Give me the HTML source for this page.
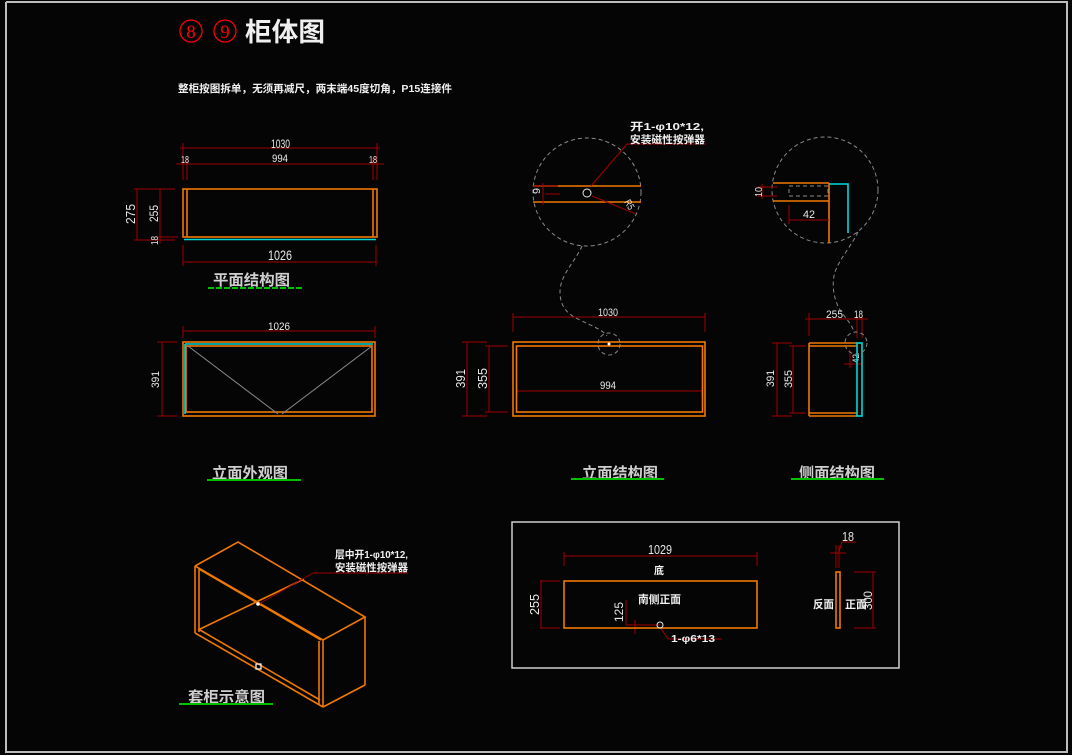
<!DOCTYPE html>
<html><head><meta charset="utf-8"><style>
html,body{margin:0;padding:0;background:#050505;}
svg{display:block;}
.d{stroke:#a00000;stroke-width:1;fill:none}
.o{stroke:#f07800;stroke-width:1.6;fill:none}
.c{stroke:#00d8d8;stroke-width:1.6;fill:none}
.g{stroke:#8a8a8a;stroke-width:1;fill:none;stroke-dasharray:4 3}
.n{fill:#e8e8e8;font-family:"Liberation Sans",sans-serif;}
.t{fill:#f0f0f0;font-family:"Liberation Sans","Noto Sans CJK SC",sans-serif;font-weight:bold;}
.h{fill:#cfcfcf;font-family:"Liberation Sans","Noto Sans CJK SC",sans-serif;font-weight:bold;font-size:15px;}
.u{stroke:#00c000;stroke-width:2;}
</style></head><body>
<svg width="1072" height="755" viewBox="0 0 1072 755" xmlns="http://www.w3.org/2000/svg">
<rect x="0" y="0" width="1072" height="755" fill="#050505"/>
<!-- frame -->
<polyline points="6,2 1067,2 1067,752 6,752 6,2" fill="none" stroke="#bdbdbd" stroke-width="2"/>

<!-- title -->
<circle cx="191" cy="31" r="11" fill="none" stroke="#ff0000" stroke-width="1.3"/>
<text x="191" y="38" text-anchor="middle" font-family="Liberation Serif,serif" font-size="19" fill="#ff0000">8</text>
<circle cx="225" cy="31" r="11" fill="none" stroke="#ff0000" stroke-width="1.3"/>
<text x="225" y="38" text-anchor="middle" font-family="Liberation Serif,serif" font-size="19" fill="#ff0000">9</text>
<text x="245" y="41" class="t" font-size="26" textLength="80" lengthAdjust="spacingAndGlyphs">柜体图</text>
<text x="178" y="92" class="t" font-size="10.5" textLength="274" lengthAdjust="spacingAndGlyphs">整柜按图拆单，无须再减尺，两末端45度切角，P15连接件</text>

<!-- ============ PLAN VIEW ============ -->
<g class="d">
<line x1="183" y1="143" x2="183" y2="180"/><line x1="377" y1="143" x2="377" y2="180"/>
<line x1="180" y1="148" x2="380" y2="148"/>
<line x1="176" y1="164" x2="384" y2="164"/>
<line x1="187" y1="158" x2="187" y2="180"/><line x1="373" y1="158" x2="373" y2="180"/>
<line x1="134" y1="189" x2="175" y2="189"/><line x1="134" y1="240" x2="175" y2="240"/>
<line x1="157" y1="237" x2="178" y2="237"/>
<line x1="137" y1="189" x2="137" y2="240"/>
<line x1="160" y1="189" x2="160" y2="244"/>
<line x1="183" y1="245" x2="183" y2="266"/><line x1="376" y1="245" x2="376" y2="266"/>
<line x1="183" y1="262" x2="376" y2="262"/>
</g>
<text x="271" y="148" class="n" font-size="12" textLength="19" lengthAdjust="spacingAndGlyphs">1030</text>
<text x="272" y="162" class="n" font-size="11" textLength="16" lengthAdjust="spacingAndGlyphs">994</text>
<text x="181" y="163" class="n" font-size="10" textLength="8" lengthAdjust="spacingAndGlyphs">18</text>
<text x="369" y="163" class="n" font-size="10" textLength="8" lengthAdjust="spacingAndGlyphs">18</text>
<text x="268" y="260" class="n" font-size="14" textLength="24" lengthAdjust="spacingAndGlyphs">1026</text>
<text transform="translate(135,224) rotate(-90)" class="n" font-size="13" textLength="20" lengthAdjust="spacingAndGlyphs">275</text>
<text transform="translate(158,222) rotate(-90)" class="n" font-size="12" textLength="17" lengthAdjust="spacingAndGlyphs">255</text>
<text transform="translate(158,245) rotate(-90)" class="n" font-size="10" textLength="9" lengthAdjust="spacingAndGlyphs">18</text>
<rect x="183" y="189" width="194" height="48" class="o"/>
<line x1="187" y1="189" x2="187" y2="237" class="o"/>
<line x1="373" y1="189" x2="373" y2="237" class="o"/>
<line x1="184" y1="239.5" x2="376" y2="239.5" class="c" stroke-width="2.2"/>
<text x="213" y="285" class="h" textLength="77" lengthAdjust="spacingAndGlyphs">平面结构图</text>
<line x1="208" y1="288" x2="302" y2="288" class="u" stroke-dasharray="6 2"/>

<!-- ============ ELEVATION EXTERIOR ============ -->
<g class="d">
<line x1="183" y1="326" x2="183" y2="338"/><line x1="375" y1="326" x2="375" y2="338"/>
<line x1="183" y1="331" x2="375" y2="331"/>
<line x1="157" y1="342" x2="177" y2="342"/><line x1="157" y1="416" x2="177" y2="416"/>
<line x1="162" y1="342" x2="162" y2="416"/>
</g>
<text x="268" y="330" class="n" font-size="11" textLength="22" lengthAdjust="spacingAndGlyphs">1026</text>
<text transform="translate(159,388) rotate(-90)" class="n" font-size="11" textLength="17" lengthAdjust="spacingAndGlyphs">391</text>
<rect x="183" y="342" width="192" height="74" class="o"/>
<line x1="185" y1="344" x2="373" y2="344" class="c"/>
<line x1="185" y1="344" x2="185" y2="414" class="c"/>
<rect x="186" y="346" width="186" height="66" class="o"/>
<line x1="188" y1="346" x2="278" y2="414" stroke="#8a8a8a" stroke-width="1"/>
<line x1="372" y1="346" x2="282" y2="414" stroke="#8a8a8a" stroke-width="1"/>
<text x="212" y="478" class="h" textLength="76" lengthAdjust="spacingAndGlyphs">立面外观图</text>
<line x1="207" y1="480" x2="301" y2="480" class="u"/>

<!-- ============ TOP DETAIL CIRCLE 1 ============ -->
<circle cx="587" cy="192" r="54" class="g"/>
<line x1="533" y1="186" x2="641" y2="186" class="o"/>
<line x1="533" y1="202" x2="641" y2="202" class="o"/>
<g class="d">
<line x1="533" y1="186" x2="558" y2="186"/>
<line x1="543" y1="183" x2="543" y2="205"/>
<line x1="546" y1="194" x2="560" y2="194"/>
<line x1="591" y1="186" x2="627" y2="144"/>
<line x1="627" y1="144" x2="706" y2="144"/>
<line x1="592" y1="196" x2="636" y2="214"/>
</g>
<circle cx="587" cy="193" r="4" fill="none" stroke="#e8e8e8" stroke-width="1"/>
<text transform="translate(540,194) rotate(-90)" class="n" font-size="10" textLength="6" lengthAdjust="spacingAndGlyphs">9</text>
<text transform="translate(624,202) rotate(60)" class="n" font-size="10" textLength="10" lengthAdjust="spacingAndGlyphs">R5</text>
<text x="630" y="130" class="t" font-size="10.5" textLength="74" lengthAdjust="spacingAndGlyphs">开1-φ10*12,</text>
<text x="630" y="143" class="t" font-size="10.5" textLength="75" lengthAdjust="spacingAndGlyphs">安装磁性按弹器</text>
<!-- squiggle -->
<path d="M582,246 C575,262 560,275 560,292 C560,305 566,314 580,320 C592,326 603,330 607,336" class="g"/>
<circle cx="609" cy="344" r="11" class="g"/>

<!-- ============ ELEVATION STRUCTURE ============ -->
<g class="d">
<line x1="513" y1="313" x2="513" y2="332"/><line x1="705" y1="313" x2="705" y2="332"/>
<line x1="513" y1="317" x2="705" y2="317"/>
<line x1="517" y1="391" x2="702" y2="391"/>
<line x1="517" y1="386" x2="517" y2="396"/><line x1="702" y1="386" x2="702" y2="396"/>
<line x1="462" y1="342" x2="487" y2="342"/><line x1="462" y1="416" x2="487" y2="416"/>
<line x1="467" y1="342" x2="467" y2="416"/>
<line x1="485" y1="346" x2="508" y2="346"/><line x1="485" y1="412" x2="508" y2="412"/>
<line x1="489" y1="346" x2="489" y2="412"/>
</g>
<text x="598" y="316" class="n" font-size="11" textLength="20" lengthAdjust="spacingAndGlyphs">1030</text>
<text x="600" y="389" class="n" font-size="11" textLength="16" lengthAdjust="spacingAndGlyphs">994</text>
<text transform="translate(465,388) rotate(-90)" class="n" font-size="13" textLength="19" lengthAdjust="spacingAndGlyphs">391</text>
<text transform="translate(487,389) rotate(-90)" class="n" font-size="13" textLength="21" lengthAdjust="spacingAndGlyphs">355</text>
<rect x="513" y="342" width="192" height="74" class="o" stroke-width="2"/>
<rect x="516.5" y="346" width="186" height="66" class="o" stroke-width="1.6"/>
<circle cx="609" cy="344" r="1.5" fill="#fff"/>
<text x="582" y="478" class="h" textLength="76" lengthAdjust="spacingAndGlyphs">立面结构图</text>
<line x1="571" y1="479" x2="664" y2="479" class="u"/>

<!-- ============ TOP DETAIL CIRCLE 2 ============ -->
<circle cx="825" cy="190" r="53" class="g"/>
<line x1="773" y1="183" x2="829" y2="183" class="o"/>
<line x1="773" y1="201" x2="829" y2="201" class="o"/>
<line x1="829" y1="183" x2="829" y2="243" class="o"/>
<polyline points="829,184 848,184 848,233" class="c"/>
<rect x="789" y="186" width="39" height="10" class="g"/>
<g class="d">
<line x1="758" y1="187" x2="777" y2="187"/>
<line x1="758" y1="196" x2="777" y2="196"/>
<line x1="762" y1="184" x2="762" y2="199"/>
<line x1="789" y1="205" x2="789" y2="224"/>
<line x1="789" y1="220" x2="829" y2="220"/>
</g>
<text transform="translate(762,197) rotate(-90)" class="n" font-size="10" textLength="10" lengthAdjust="spacingAndGlyphs">10</text>
<text x="803" y="218" class="n" font-size="11" textLength="12" lengthAdjust="spacingAndGlyphs">42</text>
<path d="M858,232 C852,245 840,258 835,272 C831,285 834,302 842,313 C848,321 852,325 854,332" class="g"/>

<!-- ============ SIDE STRUCTURE ============ -->
<g class="d">
<line x1="809" y1="313" x2="809" y2="336"/>
<line x1="805" y1="319" x2="868" y2="319"/>
<line x1="857" y1="315" x2="857" y2="338"/>
<line x1="862" y1="315" x2="862" y2="338"/>
<line x1="772" y1="343" x2="792" y2="343"/><line x1="772" y1="416" x2="792" y2="416"/>
<line x1="777" y1="343" x2="777" y2="416"/>
<line x1="789" y1="346" x2="806" y2="346"/><line x1="789" y1="413" x2="806" y2="413"/>
<line x1="793" y1="346" x2="793" y2="413"/>
<line x1="850" y1="350" x2="850" y2="368"/>
<line x1="844" y1="364" x2="863" y2="364"/>
</g>
<text x="826" y="318" class="n" font-size="11" textLength="17" lengthAdjust="spacingAndGlyphs">255</text>
<text x="854" y="318" class="n" font-size="11" textLength="9" lengthAdjust="spacingAndGlyphs">18</text>
<text transform="translate(774,387) rotate(-90)" class="n" font-size="11" textLength="17" lengthAdjust="spacingAndGlyphs">391</text>
<text transform="translate(792,388) rotate(-90)" class="n" font-size="11" textLength="18" lengthAdjust="spacingAndGlyphs">355</text>
<text transform="translate(859,363) rotate(-90)" class="n" font-size="9" textLength="9" lengthAdjust="spacingAndGlyphs">42</text>
<line x1="809" y1="343" x2="857" y2="343" class="o"/>
<line x1="809" y1="346" x2="857" y2="346" class="o"/>
<line x1="809" y1="413" x2="857" y2="413" class="o"/>
<line x1="809" y1="416" x2="857" y2="416" class="o"/>
<line x1="809" y1="343" x2="809" y2="416" class="o"/>
<rect x="857" y="343" width="5" height="73" class="c"/>
<circle cx="856" cy="343" r="11" class="g"/>
<text x="799" y="478" class="h" textLength="76" lengthAdjust="spacingAndGlyphs">侧面结构图</text>
<line x1="791" y1="479" x2="884" y2="479" class="u"/>

<!-- ============ ISO VIEW ============ -->
<g class="o" stroke-width="1.3">
<polyline points="195,566 238,542 365,617 323,640 195,566"/>
<line x1="199" y1="569" x2="321" y2="640"/>
<line x1="195" y1="566" x2="195" y2="633"/>
<line x1="199" y1="569" x2="199" y2="632"/>
<line x1="195" y1="633" x2="323" y2="707"/>
<line x1="200" y1="630" x2="320" y2="700"/>
<line x1="323" y1="640" x2="323" y2="707"/>
<line x1="319" y1="641" x2="319" y2="704"/>
<line x1="365" y1="617" x2="365" y2="685"/>
<line x1="365" y1="685" x2="323" y2="707"/>
<line x1="198" y1="630" x2="304" y2="579"/>
</g>
<g class="d">
<line x1="259" y1="604" x2="313" y2="573"/>
<line x1="313" y1="573" x2="408" y2="573"/>
</g>
<circle cx="258" cy="604" r="1.8" fill="#fff"/>
<rect x="256" y="664" width="5" height="5" fill="none" stroke="#fff" stroke-width="1.2"/>
<text x="335" y="558" class="t" font-size="10.5" textLength="73" lengthAdjust="spacingAndGlyphs">层中开1-φ10*12,</text>
<text x="335" y="571" class="t" font-size="10.5" textLength="73" lengthAdjust="spacingAndGlyphs">安装磁性按弹器</text>
<text x="188" y="702" class="h" textLength="77" lengthAdjust="spacingAndGlyphs">套柜示意图</text>
<line x1="179" y1="704" x2="273" y2="704" class="u"/>

<!-- ============ BOTTOM BOX ============ -->
<rect x="512" y="522" width="387" height="146" fill="none" stroke="#cfcfcf" stroke-width="1.5"/>
<g class="d">
<line x1="564" y1="552" x2="564" y2="566"/><line x1="757" y1="552" x2="757" y2="566"/>
<line x1="564" y1="556" x2="757" y2="556"/>
<line x1="540" y1="581" x2="560" y2="581"/><line x1="540" y1="628" x2="560" y2="628"/>
<line x1="541" y1="581" x2="541" y2="628"/>
<line x1="626" y1="600" x2="626" y2="625"/>
<line x1="626" y1="625" x2="660" y2="625"/>
<line x1="635" y1="620" x2="635" y2="634"/>
<line x1="660" y1="627" x2="668" y2="639"/>
<line x1="668" y1="639" x2="722" y2="639"/>
<line x1="836" y1="545" x2="836" y2="568"/>
<line x1="839" y1="545" x2="839" y2="568"/>
<line x1="830" y1="553" x2="846" y2="553"/>
<polyline points="839,552 842,542 856,542"/>
<line x1="854" y1="572" x2="876" y2="572"/><line x1="854" y1="628" x2="876" y2="628"/>
<line x1="873" y1="572" x2="873" y2="628"/>
</g>
<text x="648" y="554" class="n" font-size="13" textLength="24" lengthAdjust="spacingAndGlyphs">1029</text>
<text x="654" y="574" class="t" font-size="10.5" textLength="10" lengthAdjust="spacingAndGlyphs">底</text>
<rect x="564" y="581" width="193" height="47" class="o"/>
<text transform="translate(539,615) rotate(-90)" class="n" font-size="13" textLength="21" lengthAdjust="spacingAndGlyphs">255</text>
<text x="638" y="603" class="t" font-size="11" textLength="43" lengthAdjust="spacingAndGlyphs">南侧正面</text>
<text transform="translate(623,622) rotate(-90)" class="n" font-size="12" textLength="20" lengthAdjust="spacingAndGlyphs">125</text>
<circle cx="660" cy="625" r="3" fill="none" stroke="#e8e8e8" stroke-width="1"/>
<text x="671" y="642" class="t" font-size="10" textLength="44" lengthAdjust="spacingAndGlyphs">1-φ6*13</text>
<text x="842" y="541" class="n" font-size="13" textLength="12" lengthAdjust="spacingAndGlyphs">18</text>
<rect x="836" y="572" width="4" height="56" class="o" stroke-width="1.4"/>
<text x="813" y="608" class="t" font-size="11" textLength="21" lengthAdjust="spacingAndGlyphs">反面</text>
<text x="845" y="608" class="t" font-size="11" textLength="22" lengthAdjust="spacingAndGlyphs">正面</text>
<text transform="translate(872,610) rotate(-90)" class="n" font-size="12" textLength="19" lengthAdjust="spacingAndGlyphs">300</text>
</svg>
</body></html>
